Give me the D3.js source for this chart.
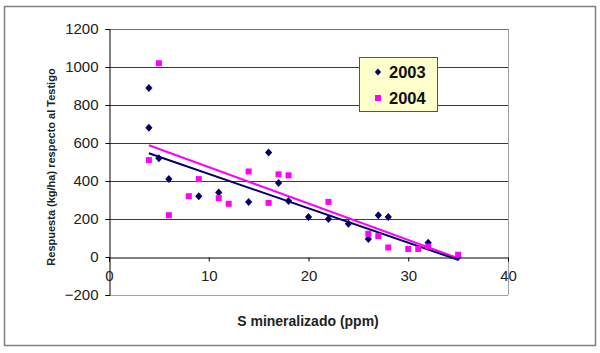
<!DOCTYPE html>
<html>
<head>
<meta charset="utf-8">
<script src="https://cdn.jsdelivr.net/npm/d3@7"></script>
<style>
  html, body { margin: 0; padding: 0; background: #fff; }
  svg { display: block; font-family: "Liberation Sans", Arial, sans-serif; }
</style>
</head>
<body>
<svg id="chart" width="600" height="353"></svg>
<script>
// ---- data ----
const seriesNames = ["2003", "2004"];
const x2003 = [4, 4, 5, 6, 9, 11, 14, 16, 17, 18, 20, 22, 24, 26, 27, 28, 32, 35];
const y2003 = [890, 680, 520, 410, 320, 340, 290, 550, 390, 295, 210, 200, 175, 95, 220, 210, 75, 0];
const x2004 = [4, 5, 6, 8, 9, 11, 12, 14, 16, 17, 18, 22, 26, 27, 28, 30, 31, 32, 35];
const y2004 = [510, 1020, 220, 320, 410, 310, 280, 450, 285, 435, 430, 290, 122, 110, 50, 42, 42, 55, 12];
const xTicks = [0, 10, 20, 30, 40];
const yTicks = [-200, 0, 200, 400, 600, 800, 1000, 1200];
const markerColors = ["#000066", "#FF00FF"];
// trendline colours as they appear in the original figure
const trendColors = ["#FF00FF", "#000066"];

const svg = d3.select("#chart");
const x = d3.scaleLinear().domain([0, 40]).range([109, 508]);
const y = d3.scaleLinear().domain([-200, 1200]).range([295, 29]);

// outer frame
svg.append("rect").attr("x", 4.5).attr("y", 6.5).attr("width", 591).attr("height", 339)
  .attr("fill", "#fff").attr("stroke", "#808080").attr("stroke-width", 1.5);

// gridlines
svg.append("g").selectAll("line").data(yTicks.filter(v => v !== -200 && v !== 0))
  .join("line")
  .attr("x1", x(0)).attr("x2", x(40))
  .attr("y1", d => Math.round(y(d)) + 0.5).attr("y2", d => Math.round(y(d)) + 0.5)
  .attr("stroke", "#3a3a3a").attr("stroke-width", 1);

// plot frame (right, bottom)
svg.append("line").attr("x1", x(40) + 0.5).attr("x2", x(40) + 0.5)
  .attr("y1", y(1200)).attr("y2", y(-200)).attr("stroke", "#a0a0a0");
svg.append("line").attr("x1", x(0)).attr("x2", x(40))
  .attr("y1", Math.round(y(-200)) + 0.5).attr("y2", Math.round(y(-200)) + 0.5).attr("stroke", "#a0a0a0");
svg.append("line").attr("x1", x(0)).attr("x2", x(40))
  .attr("y1", Math.round(y(1200)) + 0.5).attr("y2", Math.round(y(1200)) + 0.5).attr("stroke", "#707070");

// y axis
const yAxis = d3.axisLeft(y).tickValues(yTicks).tickSize(4).tickPadding(7).tickFormat(d3.format("d"));
const gy = svg.append("g").attr("transform", `translate(${x(0) + 0.5},0)`).call(yAxis);
gy.select(".domain").attr("stroke", "#000");
gy.selectAll(".tick line").attr("stroke", "#000");
gy.selectAll("text").attr("font-size", 15).attr("fill", "#222")
  .attr("font-family", "'Liberation Sans', Arial, sans-serif");

// x axis at y = 0
const xAxis = d3.axisBottom(x).tickValues(xTicks).tickSize(4).tickPadding(9).tickFormat(d3.format("d"));
const gx = svg.append("g").attr("transform", `translate(0,${Math.round(y(0)) + 0.5})`).call(xAxis);
gx.select(".domain").attr("stroke", "#000");
gx.selectAll(".tick line").attr("stroke", "#000");
gx.selectAll("text").attr("font-size", 15).attr("fill", "#222")
  .attr("font-family", "'Liberation Sans', Arial, sans-serif");

// regression trendlines
function regression(xs, ys) {
  const mx = d3.mean(xs), my = d3.mean(ys);
  let sxy = 0, sxx = 0;
  xs.forEach((v, i) => { sxy += (v - mx) * (ys[i] - my); sxx += (v - mx) * (v - mx); });
  const b = sxy / sxx, a = my - b * mx;
  const [x0, x1] = d3.extent(xs);
  return [[x0, a + b * x0], [x1, a + b * x1]];
}
const sets = [[x2003, y2003], [x2004, y2004]];
const line = d3.line().x(d => x(d[0])).y(d => y(d[1]));
sets.forEach((s, i) => {
  svg.append("path").attr("d", line(regression(s[0], s[1])))
    .attr("fill", "none").attr("stroke", trendColors[i]).attr("stroke-width", 2);
});

// markers
function diamond(cx, cy, r) {
  return `M${cx},${cy - r}L${cx + r * 0.9},${cy}L${cx},${cy + r}L${cx - r * 0.9},${cy}Z`;
}
svg.append("g").selectAll("path").data(x2003.map((v, i) => [v, y2003[i]]))
  .join("path").attr("d", d => diamond(x(d[0]), y(d[1]), 4))
  .attr("fill", markerColors[0]);
svg.append("g").selectAll("rect").data(x2004.map((v, i) => [v, y2004[i]]))
  .join("rect")
  .attr("x", d => x(d[0]) - 3).attr("y", d => y(d[1]) - 3)
  .attr("width", 6).attr("height", 6).attr("fill", markerColors[1]);

// legend
const lg = svg.append("g");
lg.append("rect").attr("x", 359.5).attr("y", 57.5).attr("width", 78).attr("height", 54)
  .attr("fill", "#FFFFCC").attr("stroke", "#555").attr("stroke-width", 1);
lg.append("path").attr("d", diamond(378, 72, 3.5)).attr("fill", markerColors[0]);
lg.append("rect").attr("x", 375).attr("y", 95).attr("width", 6).attr("height", 6).attr("fill", markerColors[1]);
seriesNames.forEach((n, i) => {
  lg.append("text").attr("x", 389).attr("y", 72 + i * 26).attr("dy", "0.35em")
    .attr("font-size", 16.5).attr("font-weight", "bold").attr("fill", "#111").text(n);
});

// axis titles
svg.append("text").attr("transform", `translate(55,167) rotate(-90)`)
  .attr("text-anchor", "middle").attr("font-size", 11).attr("font-weight", "bold").attr("fill", "#222")
  .text("Respuesta (kg/ha) respecto al Testigo");
svg.append("text").attr("x", 308).attr("y", 326).attr("text-anchor", "middle")
  .attr("font-size", 14).attr("font-weight", "bold").attr("fill", "#222")
  .text("S mineralizado (ppm)");
</script>
</body>
</html>
